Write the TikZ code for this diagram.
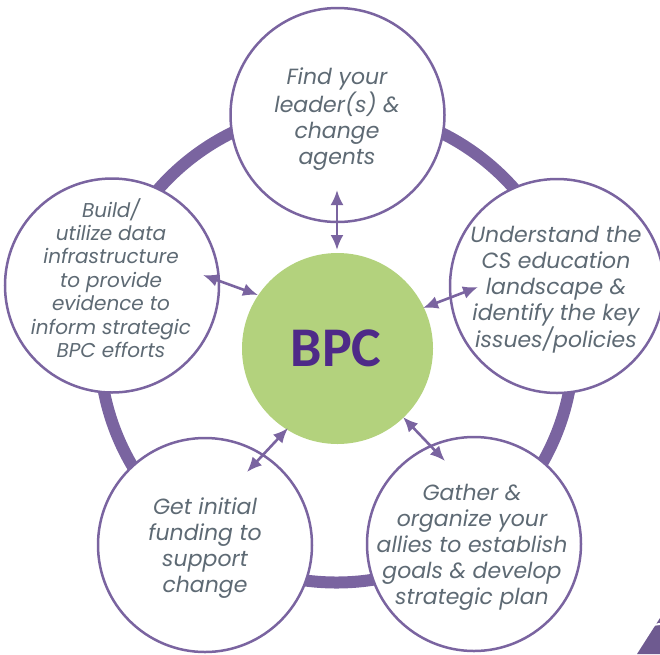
\documentclass[tikz,border=0pt]{standalone}
\usepackage{fontspec}
\setmainfont{Poppins}
\newfontfamily\bpcfont{Carlito}
\usetikzlibrary{arrows.meta}
\definecolor{ringpurple}{HTML}{7A64A0}
\definecolor{bpcgreen}{HTML}{B3D27D}
\definecolor{bpctext}{HTML}{4E2A88}
\definecolor{textgray}{HTML}{5E6A74}
\tikzset{
  stepcircle/.style={circle, draw=ringpurple, line width=2.5pt, fill=white, minimum size=214pt, inner sep=0pt},
  steptext/.style={text=textgray, align=center, font=\fontsize{22}{26}\selectfont\itshape},
  linkarrow/.style={draw=ringpurple, line width=2.6pt, {Latex[length=15pt,width=13pt]}-{Latex[length=15pt,width=13pt]}},
}
\begin{document}
\begin{tikzpicture}[x=1pt,y=-1pt]
\useasboundingbox (0,0) rectangle (660,654);
% ring
\draw[ringpurple, line width=12pt] (336.5,345.5) circle (237);
% outer circles
\node[stepcircle] (top) at (337.5,115) {};
\node[stepcircle] (right) at (557,286) {};
\node[stepcircle] (br) at (474,544) {};
\node[stepcircle] (bl) at (205,545) {};
\node[stepcircle] (left) at (112,285.5) {};
% center
\node[circle, fill=bpcgreen, minimum size=191pt, inner sep=0pt] (bpc) at (337.5,348.5) {};
\node[text=bpctext, font=\bpcfont\bfseries\fontsize{56}{60}\selectfont] (bpclabel) at (336,348) {BPC};
% texts
\node[steptext] (ttop) at (337,119) {Find your\\leader(s) \&\\change\\agents};
\node[steptext] (tright) at (556,290) {Understand the\\CS education\\landscape \&\\identify the key\\issues/policies};
\node[steptext] (tbr) at (472,547) {Gather \&\\organize your\\allies to establish\\goals \& develop\\strategic plan};
\node[steptext] (tbl) at (205,548) {Get initial\\funding to\\support\\change};
\node[steptext, font=\fontsize{20}{23.4}\selectfont\itshape] (tleft) at (111,278) {Build/\\utilize data\\infrastructure\\to provide\\evidence to\\inform strategic\\BPC efforts};
% arrow endpoints
\coordinate (a1) at (337,190); \coordinate (b1) at (337,250);
\coordinate (a2) at (478,287); \coordinate (b2) at (423,308);
\coordinate (a3) at (203,275); \coordinate (b3) at (258,295);
\coordinate (a4) at (247,472); \coordinate (b4) at (288,428);
\coordinate (a5) at (445,461); \coordinate (b5) at (403,417);
\draw[linkarrow] (a1) -- (b1);
\draw[linkarrow] (a2) -- (b2);
\draw[linkarrow] (a3) -- (b3);
\draw[linkarrow] (a4) -- (b4);
\draw[linkarrow] (a5) -- (b5);
% corner fragment
\fill[ringpurple!90!black] (637,654) -- (660,618) -- (660,654) -- cycle;
\draw[white, line width=2pt] (645,626) -- (660,624);
\end{tikzpicture}
\end{document}
